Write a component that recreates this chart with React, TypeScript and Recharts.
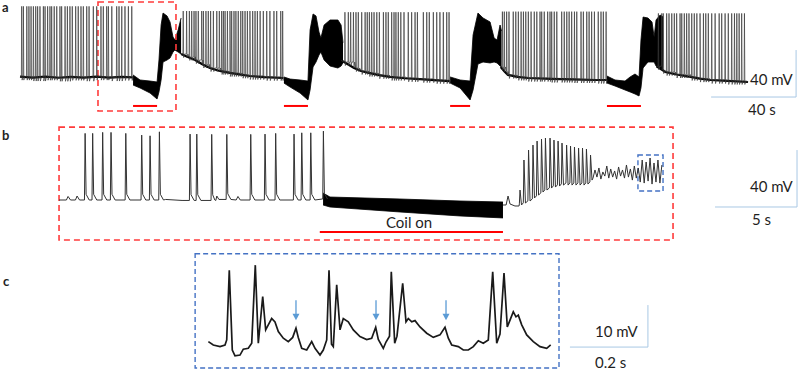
import React from 'react';
import { ComposedChart, Line, Area, XAxis, YAxis, ReferenceArea, ReferenceLine, Scatter } from 'recharts';

// ---------- panel a: whole recording (time in s, membrane potential in mV)
const spikesA: number[][] = [
  [0.8, 1.6, 3.2, 4.2, 5.2, 6.3, 7.4, 8.3, 9.4, 11.0, 11.8, 13.0, 14.1, 14.9, 16.1, 17.3, 18.8, 19.6, 21.2, 22.3, 23.5, 24.6, 26.2, 27.4, 28.7, 29.8, 31.4, 32.5, 34.5, 36.1, 38.1, 39.2, 40.8, 41.6, 43.2, 45.5, 46.6, 47.9, 49.4, 51.0, 52.6],
  [76.8, 78.4, 79.7, 80.8, 81.9, 82.8, 83.9, 85.5, 86.3, 87.5, 88.6, 89.7, 91.0, 92.6, 93.8, 94.9, 95.7, 96.5, 97.6, 98.8, 99.6, 100.7, 101.6, 102.7, 103.9, 104.8, 105.9, 107.0, 108.2, 109.5, 110.6, 111.7, 113.0, 114.5, 116.1, 117.6, 119.5, 120.8, 122.7, 123.6],
  [152.9, 154.5, 155.6, 156.9, 158.1, 159.2, 160.8, 162.4, 163.4, 164.4, 165.5, 166.6, 167.9, 169.1, 171.0, 172.2, 173.3, 174.9, 176.0, 176.9, 178.0, 179.2, 180.7, 182.7, 184.3, 185.9, 187.0, 189.8, 191.4, 192.6, 194.5, 196.1, 197.6, 199.2, 200.8, 201.9],
  [227.0, 227.9, 229.0, 230.1, 232.1, 233.3, 234.5, 235.8, 236.9, 238.0, 239.2, 240.5, 242.0, 243.2, 244.7, 245.5, 246.7, 248.3, 249.4, 250.2, 251.4, 252.6, 254.9, 256.1, 257.3, 258.4, 259.6, 260.9, 262.0, 264.0, 265.1, 266.7, 267.8, 269.0, 270.3, 272.1, 273.4, 274.5, 275.8],
  [300.4, 302.0, 302.7, 304.3, 305.4, 306.7, 307.9, 309.0, 310.6, 311.4, 312.6, 313.7, 314.8, 316.1, 317.3, 318.5, 320.0, 321.6, 322.7, 323.9, 325.5, 327.1, 329.0, 330.2, 331.8, 333.3, 334.9, 336.2, 337.3, 338.4, 339.6, 340.9],
];
const peaksA = [1, -3, -4, -3.5, -5];
const baseA: number[][][] = [
  [[0, -58.8], [6, -59.6], [12, -58.9], [18, -59.8], [24, -59], [30, -59.7], [36, -58.8], [42, -59.6], [48, -59.1], [53.1, -59.4]],
  [[75.8, -39.6], [78.7, -42], [82.4, -44.7], [86, -48.5], [89.4, -51.5], [94, -54], [98.8, -55.7], [104, -57.2], [108.2, -58.3], [115, -59.2], [123.9, -60]],
  [[151.1, -45], [152.5, -46.4], [157.2, -51.5], [160.5, -54], [164.2, -55.7], [169, -57.6], [174.1, -59.1], [181, -60.2], [188.2, -60.9], [195, -61.8], [202.2, -62.6]],
  [[226.2, -50.6], [228, -54.5], [229.6, -57.4], [234, -59], [239.1, -60], [250, -60.8], [260, -61.2], [270.7, -61.7], [276.2, -61.7]],
  [[299.5, -50], [302.3, -53.2], [303.7, -54.9], [309, -57], [315.5, -59.1], [320, -60.5], [324.9, -61.7], [333, -62.5], [342.6, -63.4]],
];
// coil on + rebound: dense oscillation drawn as [t, low, high]
const bandsA: number[][][] = [
  [[53.2, -66, -57.4], [56.5, -68.5, -61.7], [61.2, -72.8, -62.6], [64.5, -77.9, -63.4], [65.4, -71.9, -44.7], [66.4, -61.7, -14.9], [67.3, -46.4, -4.7], [69.2, -44.7, -7.2], [70.6, -43, -12.3], [72.0, -37.9, -25.1], [72.9, -36.2, -27.7], [74.4, -37.9, -19.2], [75.8, -39.6, -8.9]],
  [[124.2, -64.3, -59.1], [127.1, -67.7, -60.9], [131.8, -72.8, -61.7], [135.5, -78.7, -62.6], [136.5, -70.2, -19.2], [137.9, -50.6, -5.5], [139.3, -46.4, -7.2], [140.7, -40.4, -20.9], [141.6, -37.9, -26], [143.1, -44.7, -14.9], [145.9, -49.8, -10.6], [149.6, -51.5, -10.6], [151.1, -49.8, -14.9], [152.0, -47, -30]],
  [[202.4, -64.3, -59.1], [207.1, -68.5, -61.7], [211.8, -78.7, -62.6], [213.2, -70.2, -23.4], [215.5, -48.1, -4.7], [217.9, -46.4, -8.9], [221.2, -47.2, -12.3], [223.1, -46.4, -26], [224.5, -47.2, -27.7], [225.9, -49.8, -14.9], [226.6, -50.6, -20]],
  [[276.2, -64.3, -58.3], [280, -66.8, -61.7], [284.7, -70.2, -62.6], [287.1, -71.9, -59.1], [289.4, -73.6, -56.6], [291.3, -75.3, -59.1], [292.2, -68.5, -27.7], [293.2, -51.5, -8.1], [295.5, -46.4, -8.9], [297.4, -46.4, -12.3], [298.4, -46.4, -25.1], [299.3, -49.8, -10.6], [301.2, -51.5, -6.4], [302.6, -53.2, -8]],
];
const coilA = [[53.2, 64.5], [124.2, 135.5], [202.4, 211.8], [276.2, 292.2]];
const boxA = [36.7, 73.4, -88.1, 4.7];

// ---------- panel b: zoom on first coil period
const spikesB = [1.59, 2.05, 2.66, 3.17, 4.07, 5.04, 5.55, 6.12, 7.99, 8.40, 9.31, 10.23, 11.69, 12.56, 13.21, 14.33, 14.80, 15.35, 16.12];
const peaksB = [-13.2, -13.2, -12.5, -12.5, -13.2, -14.4, -14.9, -12.1, -13.7, -13.7, -13.9, -13.9, -13.9, -13.7, -13.2, -13.7, -12.8, -12.8, -11.6];
const baseB = [[0, -60], [0.45, -60], [0.55, -57.5], [0.7, -60], [1.0, -60], [1.1, -57.2], [1.25, -60], [6.5, -59.6], [7.5, -60.3], [9.5, -60], [9.62, -57.2], [9.75, -59.6], [10.8, -60], [10.91, -57.5], [11.05, -60], [16.05, -59.3]];
const coilBandB = [[16.1, -63.5, -55.1], [16.52, -64.9, -57.9], [20.79, -68.4, -59.3], [24.45, -71.2, -60.7], [27.07, -72.6, -61.4]];
const recoveryB = [[27.07, -63.5], [27.26, -63.5], [27.38, -57.2], [27.5, -62.8], [27.8, -64.2], [28.05, -64.2]];
const burstTimesB = [28.11, 28.35, 28.63, 28.9, 29.15, 29.42, 29.66, 29.94, 30.18, 30.43, 30.67, 30.95, 31.19, 31.43, 31.68, 31.92, 32.16, 32.41];
const burstPeaksB = [-53, -31.9, -24.9, -21.4, -18.6, -17.2, -16.5, -16.5, -17.9, -18.6, -20, -21.4, -22.1, -22.8, -23.5, -23.5, -24.2, -28.4];
const burstTroughsB = [-63.5, -62.1, -60.7, -58.6, -56.5, -54.4, -53, -51.6, -50.9, -50.2, -49.5, -49.5, -49.5, -49.5, -49.5, -49.5, -48.8, -46];
const plateauB = [
  [32.56, -44.6], [32.68, -38.9], [32.8, -43.9], [32.92, -37.5], [33.04, -45.3], [33.16, -40.3], [33.28, -43.2], [33.4, -36.1], [33.52, -44.6], [33.64, -38.2], [33.76, -43.9], [33.88, -39.6],
  [34.0, -45.3], [34.12, -36.8], [34.24, -43.2], [34.36, -38.9], [34.48, -44.6], [34.6, -35.4], [34.72, -43.9], [34.84, -38.2], [34.96, -46], [35.08, -36.1], [35.2, -44.6], [35.32, -37.5],
  [35.44, -47.4], [35.56, -31.9], [35.68, -48.1], [35.8, -33.3], [35.92, -46.7], [36.04, -30.5], [36.16, -48.8], [36.28, -34], [36.4, -47.4], [36.52, -31.9], [36.64, -48.1], [36.76, -35.4],
];
const coilB = [15.9, 27.07];
const boxB = [0, 37.44, -88.1, -8.8];
const boxBlueB = [35.3, 36.83, -53.7, -28.4];

// ---------- panel c: zoom on plateau
const traceC = [
  [0.001, -43.0], [0.0136, -43.8], [0.0308, -44.2], [0.0436, -43.8], [0.048, -42.6], [0.0546, -26.0], [0.0623, -45.0], [0.0692, -46.4], [0.0821, -46.2], [0.0905, -44.8],
  [0.1033, -44.6], [0.1121, -43.4], [0.1213, -24.8], [0.129, -43.4], [0.1403, -32.3], [0.1479, -40.2], [0.1546, -39.0], [0.1633, -37.5], [0.1718, -38.3], [0.1803, -40.6],
  [0.1931, -42.2], [0.2059, -43.0], [0.2172, -42.0], [0.2256, -39.8], [0.2315, -42.0], [0.2403, -44.6], [0.2531, -45.0], [0.2659, -43.0], [0.2744, -44.6], [0.2872, -46.2],
  [0.2956, -45.0], [0.3044, -42.6], [0.3103, -26.0], [0.3167, -43.6], [0.3213, -44.2], [0.33, -29.5], [0.3385, -40.2], [0.3469, -37.5], [0.3597, -38.3], [0.3726, -40.2],
  [0.3897, -41.8], [0.4069, -42.5], [0.4197, -42.2], [0.43, -39.6], [0.4367, -42.5], [0.4495, -44.6], [0.4564, -43.1], [0.4654, -41.7], [0.47, -26.4], [0.4787, -43.4],
  [0.4846, -41.7], [0.4992, -29.1], [0.5077, -38.3], [0.5136, -37.5], [0.5223, -38.3], [0.5308, -38.0], [0.5436, -39.5], [0.5608, -41.0], [0.5777, -42.0], [0.5949, -41.4],
  [0.6077, -39.6], [0.6162, -42.2], [0.6249, -43.8], [0.6418, -44.2], [0.6546, -45.0], [0.6674, -45.0], [0.6803, -44.2], [0.6931, -42.8], [0.7059, -43.4], [0.7187, -42.6],
  [0.73, -26.4], [0.7403, -43.4], [0.7487, -41.2], [0.759, -26.7], [0.7674, -39.5], [0.7744, -37.9], [0.7828, -35.9], [0.7897, -37.1], [0.7956, -36.7], [0.8044, -39.0],
  [0.8172, -41.4], [0.8341, -43.0], [0.8513, -44.2], [0.8685, -44.6], [0.8787, -43.8],
];
const arrowsC = [0.2256, 0.4308, 0.6103];
const boxC = [-0.033, 0.9, -49.3, -22.1];

const RED = '#ff3b3b';
const BLUE = '#4472c4';
const BAR = '#a9c8e4';
const TXT = '#1f1f1f';

type Pt = { t: number; v: number };
const toPts = (rows: number[][]): Pt[] => rows.map(([t, v]) => ({ t, v }));
const toBand = (rows: number[][]) => rows.map(([t, lo, hi]) => ({ t, v: [lo, hi] }));

const footAt = (base: number[][], t: number) => {
  let v = base[0][1];
  base.forEach(([bt, bv]) => {
    if (bt <= t) v = bv;
  });
  return v;
};

// baseline + spikes (rise, peak, repolarisation dip/shoulder, back to foot)
const spikeTrain = (base: number[][], times: number[], peaks: number[] | number, rise: number, fall: number, tail: number, dip: number) => {
  const pts = toPts(base);
  times.forEach((ts, i) => {
    const f = footAt(base, ts);
    const p = Array.isArray(peaks) ? peaks[i] : peaks;
    pts.push({ t: ts - rise, v: f }, { t: ts, v: p }, { t: ts + fall, v: f + dip }, { t: ts + tail, v: f });
  });
  return pts.sort((a, b) => a.t - b.t);
};

const burstB = () => {
  const pts: Pt[] = [];
  burstTimesB.forEach((ts, i) => {
    const prev = i === 0 ? -64.2 : burstTroughsB[i - 1];
    pts.push({ t: ts - 0.04, v: prev + 1.5 }, { t: ts, v: burstPeaksB[i] }, { t: ts + 0.09, v: burstTroughsB[i] });
  });
  return pts;
};

const Arrow = (props: any) => {
  const { cx, cy } = props;
  return (
    <g>
      <line x1={cx} y1={cy - 20} x2={cx} y2={cy - 5} stroke="#5b9bd5" strokeWidth={1.3} />
      <path d={`M${cx - 3.5},${cy - 6.5} L${cx + 3.5},${cy - 6.5} L${cx},${cy} Z`} fill="#5b9bd5" />
    </g>
  );
};

const lineProps = { type: 'linear' as const, dot: false, activeDot: false, isAnimationActive: false, dataKey: 'v' };
const margin = { top: 0, right: 0, bottom: 0, left: 0 };

const Label = ({ x, y, children, bold, size = 15 }: any) => (
  <div style={{ position: 'absolute', left: x, top: y, fontSize: size, lineHeight: `${size}px`, fontWeight: bold ? 700 : 400, color: TXT, whiteSpace: 'nowrap' }}>
    {children}
  </div>
);

export default function App() {
  return (
    <div style={{ position: 'fixed', left: 0, top: 0, width: 798, height: 370, background: '#fff', fontFamily: 'Lato, "Open Sans", sans-serif', overflow: 'hidden' }}>
      <div style={{ position: 'absolute', left: 0, top: 0 }}>
        <ComposedChart width={798} height={115} margin={margin}>
          <XAxis type="number" dataKey="t" domain={[-9.41, 366.1]} hide allowDataOverflow />
          <YAxis type="number" dataKey="v" domain={[-91.5, 6.4]} hide allowDataOverflow />
          {bandsA.map((b, i) => (
            <Area key={`band${i}`} {...lineProps} data={toBand(b)} stroke="#000" strokeWidth={0.8} fill="#000" fillOpacity={1} />
          ))}
          {baseA.map((b, i) => (
            <Line key={`base${i}`} {...lineProps} data={toPts(b)} stroke="#000" strokeWidth={2.2} />
          ))}
          {spikesA.map((s, i) => (
            <Line key={`sp${i}`} {...lineProps} data={spikeTrain(baseA[i], s, peaksA[i], 0.15, 0.2, 0.6, -3)} stroke="#3a3a3a" strokeWidth={0.7} />
          ))}
          <ReferenceArea x1={boxA[0]} x2={boxA[1]} y1={boxA[2]} y2={boxA[3]} fill="none" fillOpacity={0} stroke={RED} strokeWidth={1.6} strokeDasharray="6 4" ifOverflow="visible" />
          {coilA.map(([a, b], i) => (
            <ReferenceLine key={`coil${i}`} segment={[{ x: a, y: -83.8 }, { x: b, y: -83.8 }]} stroke="#f00" strokeWidth={2} ifOverflow="visible" />
          ))}
          <ReferenceLine segment={[{ x: 325.2, y: -76.2 }, { x: 365.2, y: -76.2 }]} stroke={BAR} strokeWidth={1} ifOverflow="visible" />
          <ReferenceLine segment={[{ x: 365.2, y: -76.2 }, { x: 365.2, y: -36.2 }]} stroke={BAR} strokeWidth={1} ifOverflow="visible" />
        </ComposedChart>
      </div>

      <div style={{ position: 'absolute', left: 0, top: 120 }}>
        <ComposedChart width={798} height={125} margin={margin}>
          <XAxis type="number" dataKey="t" domain={[-3.6, 45.06]} hide allowDataOverflow />
          <YAxis type="number" dataKey="v" domain={[-91.6, -3.8]} hide allowDataOverflow />
          <Area {...lineProps} data={toBand(coilBandB)} stroke="#000" strokeWidth={0.8} fill="#000" fillOpacity={1} />
          <Line {...lineProps} data={spikeTrain(baseB, spikesB, peaksB, 0.04, 0.06, 0.25, 4)} stroke="#333" strokeWidth={1} />
          <Line {...lineProps} data={[...toPts(recoveryB), ...burstB(), ...toPts(plateauB)]} stroke="#333" strokeWidth={1} />
          <ReferenceArea x1={boxB[0]} x2={boxB[1]} y1={boxB[2]} y2={boxB[3]} fill="none" fillOpacity={0} stroke={RED} strokeWidth={1.6} strokeDasharray="6 4" ifOverflow="visible" />
          <ReferenceArea x1={boxBlueB[0]} x2={boxBlueB[1]} y1={boxBlueB[2]} y2={boxBlueB[3]} fill="none" fillOpacity={0} stroke={BLUE} strokeWidth={1.4} strokeDasharray="5 3" ifOverflow="visible" />
          <ReferenceLine segment={[{ x: coilB[0], y: -82.5 }, { x: coilB[1], y: -82.5 }]} stroke="#f00" strokeWidth={2} ifOverflow="visible" />
          <ReferenceLine segment={[{ x: 40, y: -64.9 }, { x: 45, y: -64.9 }]} stroke={BAR} strokeWidth={1} ifOverflow="visible" />
          <ReferenceLine segment={[{ x: 45, y: -64.9 }, { x: 45, y: -24.9 }]} stroke={BAR} strokeWidth={1} ifOverflow="visible" />
        </ComposedChart>
      </div>

      <div style={{ position: 'absolute', left: 0, top: 250 }}>
        <ComposedChart width={798} height={120} margin={margin}>
          <XAxis type="number" dataKey="t" domain={[-0.5333, 1.5128]} hide allowDataOverflow />
          <YAxis type="number" dataKey="v" domain={[-49.76, -21.19]} hide allowDataOverflow />
          <Line {...lineProps} data={toPts(traceC)} stroke="#1a1a1a" strokeWidth={1.7} />
          <Scatter data={arrowsC.map((t) => ({ t, v: -37.9 }))} dataKey="v" shape={<Arrow />} isAnimationActive={false} />
          <ReferenceArea x1={boxC[0]} x2={boxC[1]} y1={boxC[2]} y2={boxC[3]} fill="none" fillOpacity={0} stroke={BLUE} strokeWidth={1.4} strokeDasharray="5 3" ifOverflow="visible" />
          <ReferenceLine segment={[{ x: 0.928, y: -44.3 }, { x: 1.128, y: -44.3 }]} stroke={BAR} strokeWidth={1} ifOverflow="visible" />
          <ReferenceLine segment={[{ x: 1.128, y: -44.3 }, { x: 1.128, y: -34.3 }]} stroke={BAR} strokeWidth={1} ifOverflow="visible" />
        </ComposedChart>
      </div>

      <Label x={2} y={1} bold size={13}>a</Label>
      <Label x={2} y={129} bold size={13}>b</Label>
      <Label x={3} y={275} bold size={13}>c</Label>
      <Label x={750} y={72}>40 mV</Label>
      <Label x={748} y={102}>40 s</Label>
      <Label x={750} y={179}>40 mV</Label>
      <Label x={752} y={212}>5 s</Label>
      <Label x={386} y={215}>Coil on</Label>
      <Label x={595} y={324}>10 mV</Label>
      <Label x={595} y={355}>0.2 s</Label>
    </div>
  );
}
